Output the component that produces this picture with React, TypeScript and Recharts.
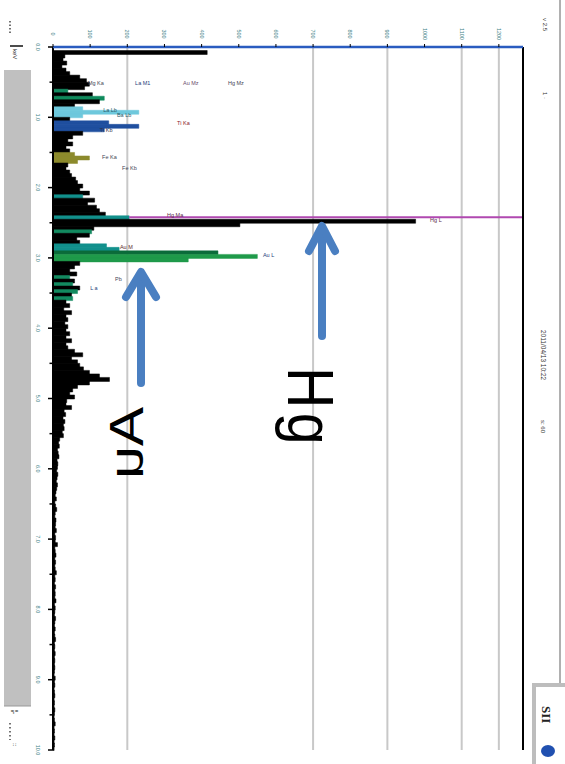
import {
  ComposedChart,
  Bar,
  Cell,
  Scatter,
  XAxis,
  YAxis,
  CartesianGrid,
  ReferenceLine,
  ReferenceDot,
} from 'recharts';

// spectrum counts, one value per 0.05 keV channel (0 .. 10 keV)
const counts = [
  0, 415, 32, 27, 37, 24, 35, 45, 72, 90,
  98, 85, 40, 106, 138, 125, 58, 80, 231, 80,
  45, 150, 231, 138, 80, 53, 40, 53, 35, 45,
  58, 98, 66, 40, 35, 45, 50, 61, 66, 80,
  72, 98, 80, 112, 93, 117, 125, 141, 205, 976,
  503, 110, 104, 98, 64, 72, 144, 178, 444, 550,
  364, 72, 58, 45, 64, 45, 58, 53, 72, 66,
  50, 53, 35, 45, 29, 50, 35, 40, 32, 40,
  35, 45, 35, 50, 35, 40, 58, 80, 50, 66,
  72, 82, 98, 125, 152, 98, 66, 53, 45, 58,
  37, 35, 50, 30, 34, 27, 32, 28, 30, 25,
  28, 18, 15, 17, 12, 14, 16, 11, 13, 12,
  10, 13, 11, 9, 12, 10, 8, 6, 9, 5,
  7, 10, 6, 5, 8, 7, 6, 9, 5, 7,
  6, 12, 5, 6, 8, 5, 7, 5, 6, 9,
  5, 6, 4, 7, 5, 6, 5, 8, 4, 6,
  5, 4, 7, 5, 4, 6, 4, 5, 7, 4,
  5, 4, 6, 4, 5, 4, 5, 4, 3, 6,
  4, 5, 3, 4, 5, 3, 4, 3, 5, 4,
  3, 4, 6, 3, 4, 3, 5, 3, 4, 3,
];

// coloured peak windows (first/last channel)
const peakRegions = [
  { el: 'O', first: 12, last: 12, color: '#138a60' },
  { el: 'Na', first: 14, last: 14, color: '#0f8a5c' },
  { el: 'La', first: 17, last: 19, color: '#6ec8dc' },
  { el: 'Ti', first: 21, last: 23, color: '#1f4f9f' },
  { el: 'Fe', first: 30, last: 32, color: '#8c8a2c' },
  { el: 'Si', first: 42, last: 42, color: '#12908c' },
  { el: 'HgM', first: 48, last: 48, color: '#12908c' },
  { el: 'S', first: 52, last: 52, color: '#138a60' },
  { el: 'AuM', first: 56, last: 57, color: '#12908c' },
  { el: 'HgL', first: 58, last: 58, color: '#0b6b3a' },
  { el: 'AuL', first: 59, last: 60, color: '#1f9a4a' },
  { el: 'Cl', first: 65, last: 65, color: '#138a60' },
  { el: 'K', first: 67, last: 67, color: '#138a60' },
  { el: 'Ca', first: 69, last: 69, color: '#138a60' },
  { el: 'Sc', first: 71, last: 71, color: '#138a60' },
];

// peak labels: text, counts, keV
const peakLabels = [
  { text: 'Mg Ka', c: 94, e: 0.51, color: '#445' },
  { text: 'La M1', c: 221, e: 0.51, color: '#1d3d7a' },
  { text: 'Au Mz', c: 350, e: 0.51, color: '#6a4a6a' },
  { text: 'Hg Mz', c: 471, e: 0.51, color: '#445' },
  { text: 'La Lb', c: 135, e: 0.9, color: '#2a5a6a' },
  { text: 'Ba Lb', c: 172, e: 0.97, color: '#2a5a6a' },
  { text: 'Ti Ka', c: 334, e: 1.08, color: '#8b1a2a' },
  { text: 'Ti Kb', c: 126, e: 1.18, color: '#334' },
  { text: 'Fe Ka', c: 132, e: 1.56, color: '#445' },
  { text: 'Fe Kb', c: 186, e: 1.72, color: '#445' },
  { text: 'Hg Ma', c: 307, e: 2.39, color: '#5a2a4a' },
  { text: 'Hg L', c: 1015, e: 2.46, color: '#5a2a4a' },
  { text: 'Au M', c: 180, e: 2.84, color: '#5a2a2a' },
  { text: 'Au L', c: 565, e: 2.96, color: '#1d3d7a' },
  { text: 'Pb', c: 167, e: 3.3, color: '#445' },
  { text: 'L a', c: 100, e: 3.43, color: '#1d3d7a' },
];

const countTicks = [0, 100, 200, 300, 400, 500, 600, 700, 800, 900, 1000, 1100, 1200];
const gridCounts = [200, 700, 900, 1100, 1200];
const energyTicks = [0, 0.5, 1, 1.5, 2, 2.5, 3, 3.5, 4, 4.5, 5, 5.5, 6, 6.5, 7, 7.5, 8, 8.5, 9, 9.5, 10];
const axisCorners = [
  { c: 0, e: 0 },
  { c: 1265, e: 10 },
];
const hgMarkerKeV = 2.42;

const colorOf = (i: number) => {
  const r = peakRegions.find((p) => i >= p.first && i <= p.last);
  return r ? r.color : '#000';
};

const channels = counts.map((c, i) => ({ ch: i, c, color: colorOf(i) }));

const FONT = '"Liberation Sans", Arial, sans-serif';
const TICK_COLOR = '#3d7f86';
const LEFT_LABEL_X = 36;
const PLOT_LEFT = 53;

function TopTick(props: any) {
  const { x, y, payload } = props;
  return (
    <text
      transform={`translate(${x - 2},${y - 8}) rotate(90)`}
      textAnchor="middle"
      fontSize={5.5}
      fill={TICK_COLOR}
      fontFamily={FONT}
    >
      {payload.value}
    </text>
  );
}

function LeftTick(props: any) {
  const { y, payload } = props;
  const major = Number.isInteger(payload.value);
  return (
    <g>
      <line x1={PLOT_LEFT - (major ? 5 : 3.5)} y1={y} x2={PLOT_LEFT} y2={y} stroke="#000" strokeWidth={1.5} />
      {major && (
        <text
          transform={`translate(${LEFT_LABEL_X},${y}) rotate(90)`}
          textAnchor="middle"
          fontSize={5.5}
          fill={TICK_COLOR}
          fontFamily={FONT}
        >
          {payload.value.toFixed(1)}
        </text>
      )}
    </g>
  );
}

function Decorations() {
  const arrow = '#4a7fc1';
  return (
    <svg
      width={565}
      height={764}
      style={{ position: 'absolute', left: 0, top: 0, pointerEvents: 'none' }}
      fontFamily={FONT}
    >
      {/* left panel */}
      <line x1={10} y1={21} x2={10} y2={34} stroke="#444" strokeWidth={1.5} strokeDasharray="1.5 2" />
      <line x1={10} y1={46} x2={23} y2={46} stroke="#111" strokeWidth={1.5} />
      <text transform="translate(13,49) rotate(90)" fontSize={6} fill="#222">
        keV
      </text>
      <rect x={4} y={70} width={27} height={636} fill="#c0c0c0" />
      <line x1={4} y1={706} x2={31} y2={706} stroke="#999" strokeWidth={1} />
      <text transform="translate(13,710) rotate(90)" fontSize={7} fontWeight="bold" fill="#111">
        ¦.
      </text>
      <line x1={10} y1={723} x2={10} y2={740} stroke="#444" strokeWidth={1.5} strokeDasharray="1.5 2.5" />
      <text transform="translate(13,743) rotate(90)" fontSize={6} fill="#333">
        ::
      </text>

      {/* right panel */}
      <line x1={560} y1={0} x2={560} y2={683} stroke="#b0b0b0" strokeWidth={2} />
      <text transform="translate(543,18) rotate(90)" fontSize={6} fill="#333">
        v 2.5
      </text>
      <text transform="translate(543,92) rotate(90)" fontSize={6} fill="#333">
        1 ·
      </text>
      <text transform="translate(541,330) rotate(90)" fontSize={6.5} fill="#333">
        2011/04/13 10:22
      </text>
      <text transform="translate(541,420) rotate(90)" fontSize={6} fill="#333">
        s: 60
      </text>
      <rect x={534} y={685} width={33} height={81} fill="#fff" stroke="#bdbdbd" strokeWidth={4} />
      <text transform="translate(542,706) rotate(90)" fontSize={13} fontWeight="bold" fill="#222" fontFamily="'Liberation Serif', serif">
        SII
      </text>
      <ellipse cx={548} cy={751} rx={7} ry={6} fill="#2050b0" />

      {/* arrows */}
      <g stroke={arrow} strokeWidth={8} strokeLinecap="round" strokeLinejoin="round" fill="none">
        <line x1={141} y1={274} x2={141} y2={383} />
        <polyline points="126,297 141,272 156,297" />
        <line x1={322} y1={228} x2={322} y2={336} />
        <polyline points="309,251 322,226 335,251" />
      </g>
      <text transform="matrix(0,1.2,1,0,143,407)" fontSize={49} fill="#000">
        Au
      </text>
      <text transform="matrix(0,0.88,-1,0,288,367)" fontSize={65} fill="#000" letterSpacing={5}>
        Hg
      </text>
    </svg>
  );
}

export default function App() {
  return (
    <div
      style={{
        position: 'absolute',
        left: 0,
        top: 0,
        width: 565,
        height: 764,
        background: '#fff',
        fontFamily: FONT,
      }}
    >
      <ComposedChart
        width={565}
        height={764}
        layout="vertical"
        data={channels}
        margin={{ top: 20, right: 42, bottom: 14, left: 8 }}
        barCategoryGap={0}
        barGap={0}
      >
        <XAxis
          xAxisId="c"
          type="number"
          orientation="top"
          domain={[0, 1265]}
          ticks={countTicks}
          height={27}
          tickSize={3}
          axisLine={{ stroke: '#2a5cc0', strokeWidth: 2.5 }}
          tickLine={{ stroke: '#000' }}
          tick={<TopTick />}
          allowDataOverflow
        />
        <XAxis xAxisId="g" type="number" dataKey="c" domain={[0, 1265]} ticks={gridCounts} hide />
        <YAxis yAxisId="ch" type="category" dataKey="ch" hide />
        <YAxis
          yAxisId="e"
          type="number"
          dataKey="e"
          domain={[0, 10]}
          ticks={energyTicks}
          width={45}
          tickLine={false}
          axisLine={false}
          tick={<LeftTick />}
          allowDataOverflow
        />
        <CartesianGrid xAxisId="g" yAxisId="e" horizontal={false} stroke="#c8c8c8" strokeWidth={2} />
        <Scatter
          data={axisCorners}
          xAxisId="g"
          yAxisId="e"
          dataKey="c"
          isAnimationActive={false}
          shape={() => <g />}
        />
        <Bar dataKey="c" xAxisId="c" yAxisId="ch" isAnimationActive={false}>
          {channels.map((d) => (
            <Cell key={`ch-${d.ch}`} fill={d.color} stroke={d.color} strokeWidth={0.5} />
          ))}
        </Bar>
        <ReferenceLine xAxisId="c" yAxisId="e" x={0} stroke="#000" strokeWidth={2} />
        <ReferenceLine
          xAxisId="c"
          yAxisId="e"
          segment={[
            { x: 205, y: hgMarkerKeV },
            { x: 1265, y: hgMarkerKeV },
          ]}
          stroke="#b048b0"
          strokeWidth={2}
        />
        <ReferenceLine xAxisId="c" yAxisId="e" y={0} stroke="#f0e020" strokeWidth={2} strokeDasharray="2 7" />
        <ReferenceLine xAxisId="c" yAxisId="e" x={1265} stroke="#000" strokeWidth={2} />
        {peakLabels.map((p) => (
          <ReferenceDot
            key={p.text + p.e}
            xAxisId="c"
            yAxisId="e"
            x={p.c}
            y={p.e}
            r={0}
            fill="none"
            stroke="none"
            label={{ value: p.text, position: 'right', offset: 0, fontSize: 5.5, fill: p.color }}
          />
        ))}
      </ComposedChart>
      <Decorations />
    </div>
  );
}
